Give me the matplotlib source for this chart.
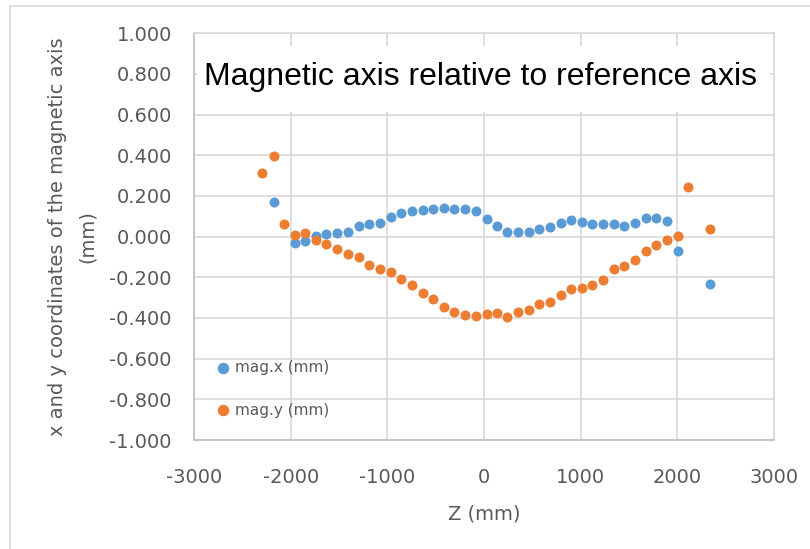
import matplotlib
matplotlib.use("Agg")
import matplotlib.pyplot as plt
from matplotlib.patches import Rectangle
from matplotlib.lines import Line2D

# Z positions (mm) and magnetic axis offsets (mm)
z_x = [-2173, -1958, -1852, -1741, -1630, -1516, -1406, -1292, -1189, -1078,
       -967, -857, -746, -635, -525, -415, -308, -197, -86, 28,
       131, 242, 352, 463, 573, 684, 795, 898, 1012, 1122,
       1236, 1340, 1451, 1562, 1672, 1782, 1896, 2003, 2335]
mag_x = [0.168, -0.033, -0.022, 0.001, 0.014, 0.017, 0.025, 0.051, 0.063, 0.068,
         0.099, 0.115, 0.125, 0.130, 0.138, 0.140, 0.138, 0.138, 0.128, 0.085,
         0.053, 0.024, 0.024, 0.024, 0.037, 0.045, 0.065, 0.084, 0.070, 0.060,
         0.063, 0.060, 0.050, 0.068, 0.092, 0.092, 0.076, -0.071, -0.234]

z_y = [-2293, -2173, -2069, -1958, -1852, -1741, -1630, -1516, -1406, -1292,
       -1189, -1078, -967, -857, -746, -635, -525, -415, -308, -197,
       -86, 28, 131, 242, 352, 463, 573, 684, 795, 898,
       1012, 1122, 1236, 1340, 1451, 1562, 1672, 1782, 1896, 2003,
       2114, 2335]
mag_y = [0.311, 0.396, 0.060, 0.009, 0.016, -0.017, -0.038, -0.061, -0.086, -0.099,
         -0.138, -0.161, -0.172, -0.207, -0.239, -0.275, -0.306, -0.346, -0.369, -0.385,
         -0.388, -0.380, -0.375, -0.393, -0.372, -0.359, -0.333, -0.320, -0.287, -0.257,
         -0.251, -0.238, -0.212, -0.161, -0.145, -0.115, -0.073, -0.042, -0.016, 0.002,
         0.246, 0.040]

xticks = [-3000, -2000, -1000, 0, 1000, 2000, 3000]
yticks = [-1.0, -0.8, -0.6, -0.4, -0.2, 0.0, 0.2, 0.4, 0.6, 0.8, 1.0]

W, H = 810, 549
grey = "#595959"
plt.rcParams['font.family'] = ['DejaVu Sans']
plt.rcParams['axes.unicode_minus'] = False

fig = plt.figure(figsize=(W/100., H/100.), dpi=100)
ax = fig.add_axes([194./W, 1-440./H, (774-194.)/W, (440-33.3)/H])

ax.scatter(z_x, mag_x, s=52, color="#5B9BD5", zorder=3, label="mag.x (mm)",
           linewidths=0)
ax.scatter(z_y, mag_y, s=52, color="#ED7D31", zorder=4, label="mag.y (mm)",
           linewidths=0)

ax.set_xlim(-3000, 3000)
ax.set_ylim(-1, 1)
ax.set_xticks(xticks)
ax.set_yticks(yticks)
ax.set_yticklabels(["%.3f" % v for v in yticks])
ax.set_axisbelow(True)
ax.grid(True, color="#D9D9D9", linewidth=1.2)
for side in ["top", "right"]:
	ax.spines[side].set_color("#D9D9D9")
for side in ["left", "bottom"]:
	ax.spines[side].set_color("#BFBFBF")
for sp in ax.spines.values():
	sp.set_linewidth(1.2)
ax.tick_params(axis="y", length=0, labelsize=14, labelcolor=grey, pad=16)
ax.tick_params(axis="x", length=0, labelsize=14, labelcolor=grey, pad=20)

ax.set_xlabel("Z (mm)", fontsize=14, color=grey, labelpad=13)
ax.set_ylabel("x and y coordinates of the magnetic axis\n(mm)", fontsize=14,
              color=grey, labelpad=9, linespacing=1.75)

# white box behind the title, covering the gridlines
ax.add_patch(Rectangle((197./W, 1-112./H), (770-197.)/W, 66./H,
             transform=fig.transFigure, facecolor="white", edgecolor="none",
             zorder=2, clip_on=False))
fig.text(480./W, 1-77./H, "Magnetic axis relative to reference axis",
         fontsize=23, family="Liberation Sans", color="black",
         ha="center", va="center", zorder=5)

leg = ax.legend(loc="upper left", bbox_to_anchor=(215./W, 1-360./H),
                bbox_transform=fig.transFigure, frameon=False, fontsize=11,
                labelspacing=1.8, handlelength=1.0, handletextpad=0.3,
                borderaxespad=0, borderpad=0, scatterpoints=1,
                markerscale=1.15)
for t in leg.get_texts():
	t.set_color(grey)

# outer chart border
fig.add_artist(Line2D([10./W, 10./W, 1.0], [0.0, 1-6./H, 1-6./H],
               transform=fig.transFigure, color="#D9D9D9", linewidth=1.2))

fig.savefig("out.png", dpi=100)
